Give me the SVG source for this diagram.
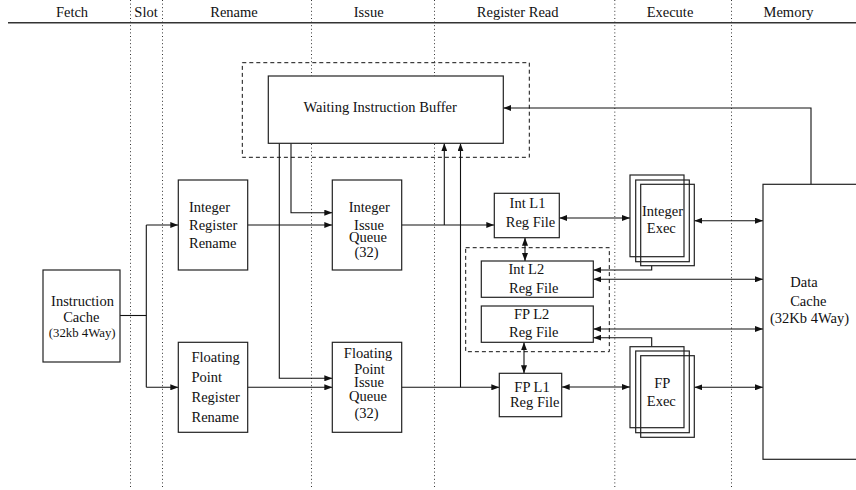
<svg xmlns="http://www.w3.org/2000/svg" width="856" height="490" viewBox="0 0 856 490">
<defs>
<style>
text{font-family:'Liberation Serif','Times New Roman',Tinos,'DejaVu Serif',serif;font-size:14.5px;fill:#111}
.c{text-anchor:middle}
.box{fill:#fff;stroke:#222;stroke-width:1.2}
.dash{fill:none;stroke:#111;stroke-width:1;stroke-dasharray:4,3}
.dot{fill:none;stroke:#333;stroke-width:1;stroke-dasharray:1,2.6}
.ln{fill:none;stroke:#111;stroke-width:1.1}
.a{marker-end:url(#arr)}
.d{marker-start:url(#arr);marker-end:url(#arr)}
</style>
<marker id="arr" markerUnits="userSpaceOnUse" markerWidth="8" markerHeight="6" refX="8" refY="3" orient="auto-start-reverse">
<path d="M0,0 L8,3 L0,6 z" fill="#111"/>
</marker>
</defs>
<rect width="856" height="490" fill="#fff"/>
<g font-family="Liberation Serif, serif">

<g id="header">
<line x1="8" y1="22.7" x2="856" y2="22.7" stroke="#333" stroke-width="1.4"/>
<text class="c" x="72" y="17.3">Fetch</text>
<text class="c" x="146" y="17.3">Slot</text>
<text class="c" x="234" y="17.3">Rename</text>
<text class="c" x="368.7" y="17.3">Issue</text>
<text class="c" x="517.7" y="17.3">Register Read</text>
<text class="c" x="670" y="17.3">Execute</text>
<text class="c" x="788.5" y="17.3">Memory</text>
</g>

<g id="stage-dividers">
<line class="dot" x1="130.5" y1="0" x2="130.5" y2="487"/>
<line class="dot" x1="162.5" y1="0" x2="162.5" y2="487"/>
<line class="dot" x1="311.5" y1="0" x2="311.5" y2="487"/>
<line class="dot" x1="434.5" y1="0" x2="434.5" y2="487"/>
<line class="dot" x1="614.8" y1="0" x2="614.8" y2="487"/>
<line class="dot" x1="731.5" y1="0" x2="731.5" y2="487"/>
</g>

<g id="wib-group">
<rect class="dash" x="242.3" y="62.7" width="287" height="94.6"/>
</g>
<g id="l2-group">
<rect class="dash" x="465.7" y="247.7" width="143.6" height="104"/>
</g>

<g id="connectors">
<path class="ln" d="M120,315.5 H146.3"/>
<path class="ln" d="M146.3,225 V387.3"/>
<path class="ln a" d="M146.3,225 H178.3"/>
<path class="ln a" d="M146.3,387.3 H178.3"/>
<path class="ln a" d="M247.7,225 H332.3"/>
<path class="ln a" d="M279.3,143.3 V378.3 H332.3"/>
<path class="ln a" d="M291,143.3 V212.7 H332.3"/>
<path class="ln a" d="M247.7,387.3 H332.3"/>
<path class="ln a" d="M401.7,225 H494.3"/>
<path class="ln a" d="M444.3,225 V143.3"/>
<path class="ln a" d="M401.7,387.3 H499.3"/>
<path class="ln a" d="M460.5,387.3 V143.3"/>
<path class="ln d" d="M525,237.7 V261"/>
<path class="ln d" d="M524,342.3 V373.3"/>
<path class="ln d" d="M559.3,218 H630"/>
<path class="ln d" d="M694.3,220.7 H763"/>
<path class="ln a" d="M651.7,265.7 V270 H593.3"/>
<path class="ln d" d="M593.3,279.3 H763"/>
<path class="ln d" d="M593.3,329 H763"/>
<path class="ln a" d="M651.7,346.7 V337.7 H593.3"/>
<path class="ln d" d="M561.7,387 H630"/>
<path class="ln d" d="M694.3,387.3 H763"/>
<path class="ln a" d="M811,184.3 V108 H503.3"/>
</g>

<g id="instruction-cache">
<rect class="box" x="43" y="270" width="77" height="92"/>
<text class="c" x="82.5" y="306">Instruction</text>
<text class="c" x="81.3" y="321.7">Cache</text>
<text class="c" x="82.2" y="336.7" style="font-size:12.8px">(32kb 4Way)</text>
</g>

<g id="int-rename">
<rect class="box" x="178.3" y="180" width="69.4" height="90"/>
<text x="189" y="211.7">Integer</text>
<text x="189" y="230">Register</text>
<text x="189" y="247.5">Rename</text>
</g>

<g id="fp-rename">
<rect class="box" x="178.3" y="342.3" width="69.4" height="90"/>
<text x="191.5" y="361.7">Floating</text>
<text x="191.5" y="381.7">Point</text>
<text x="191.5" y="401.7">Register</text>
<text x="191.5" y="421.7">Rename</text>
</g>

<g id="wib">
<rect class="box" x="268.3" y="76" width="235" height="67.3"/>
<text class="c" x="380.2" y="112.3">Waiting Instruction Buffer</text>
</g>

<g id="int-issue-queue">
<rect class="box" x="332.3" y="180" width="69.4" height="90"/>
<text class="c" x="369.3" y="211.7">Integer</text>
<text class="c" x="369" y="229.5">Issue</text>
<text class="c" x="368" y="242">Queue</text>
<text class="c" x="366.5" y="256.7">(32)</text>
</g>

<g id="fp-issue-queue">
<rect class="box" x="332.3" y="342.3" width="69.4" height="90"/>
<text class="c" x="368" y="358.3">Floating</text>
<text class="c" x="369.5" y="373.5">Point</text>
<text class="c" x="369" y="387.3">Issue</text>
<text class="c" x="368" y="401">Queue</text>
<text class="c" x="366.5" y="418.3">(32)</text>
</g>

<g id="int-l1">
<rect class="box" x="494.3" y="193.3" width="65" height="44.4"/>
<text class="c" x="527.5" y="207.7">Int L1</text>
<text class="c" x="530.5" y="227.3">Reg File</text>
</g>

<g id="int-l2">
<rect class="box" x="481.3" y="261" width="112" height="36.3"/>
<text class="c" x="526.3" y="274.3">Int L2</text>
<text class="c" x="533.8" y="292.7">Reg File</text>
</g>

<g id="fp-l2">
<rect class="box" x="481.3" y="306" width="112" height="36.3"/>
<text class="c" x="531.7" y="319.3">FP L2</text>
<text class="c" x="533.8" y="337.3">Reg File</text>
</g>

<g id="fp-l1">
<rect class="box" x="499.3" y="373.3" width="62.4" height="43.4"/>
<text class="c" x="532" y="391.7">FP L1</text>
<text class="c" x="534.7" y="406.7">Reg File</text>
</g>

<g id="int-exec">
<rect class="box" x="630" y="175" width="54" height="81.7"/>
<rect class="box" x="635.7" y="180" width="53.6" height="81.7" style="fill:none"/>
<rect class="box" x="640.7" y="184.3" width="53.6" height="81.4" style="fill:none"/>
<text class="c" x="662.5" y="215.7">Integer</text>
<text class="c" x="661.3" y="233.3">Exec</text>
</g>

<g id="fp-exec">
<rect class="box" x="630" y="346.7" width="54" height="81"/>
<rect class="box" x="635.7" y="351" width="53.6" height="81.7" style="fill:none"/>
<rect class="box" x="640.7" y="355.7" width="53.6" height="81.6" style="fill:none"/>
<text class="c" x="662.3" y="388.3">FP</text>
<text class="c" x="661.3" y="405.7">Exec</text>
</g>

<g id="data-cache">
<rect class="box" x="763" y="184.3" width="110" height="275" style="fill:none"/>
<text class="c" x="804" y="287.3">Data</text>
<text class="c" x="808.3" y="305.7">Cache</text>
<text class="c" x="809.5" y="323.3">(32Kb 4Way)</text>
</g>
</g>
</svg>
